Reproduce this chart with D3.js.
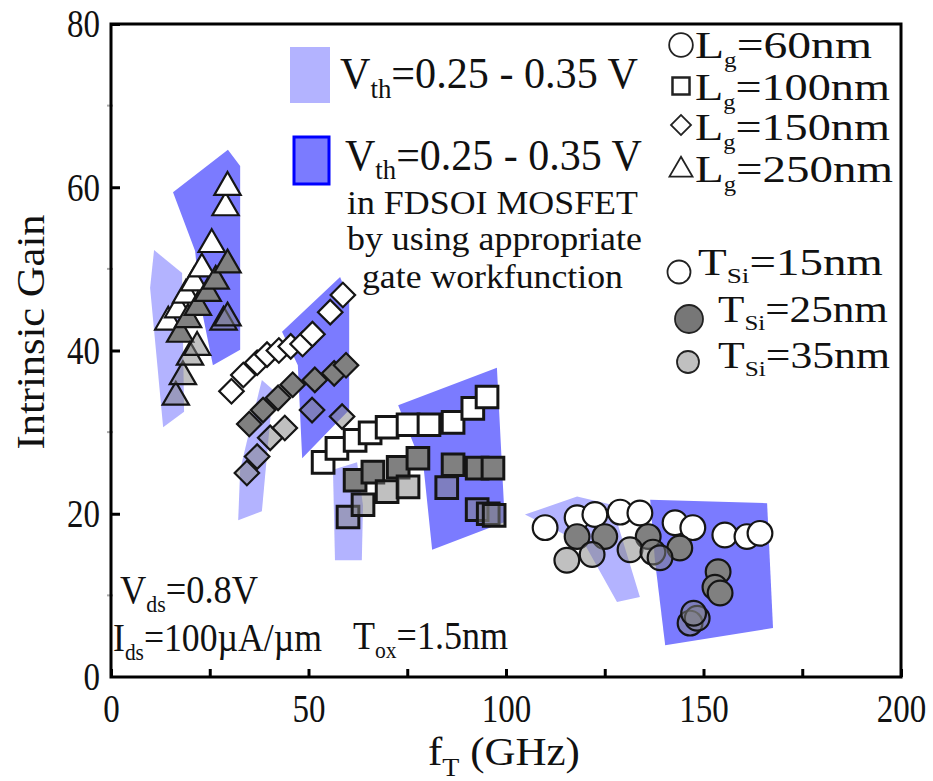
<!DOCTYPE html>
<html>
<head>
<meta charset="utf-8">
<script src="https://cdn.jsdelivr.net/npm/d3@7"></script>
<style>
  body { margin: 0; background: #fff; }
  text { font-family: "Liberation Serif", "Times New Roman", serif; fill: #111; }
</style>
</head>
<body>
<div id="chart"></div>
<script>

// axis ticks
const xTicks = [0, 25, 50, 75, 100, 125, 150, 175, 200]
const yTicks = [0, 20, 40, 60, 80]
const yMinor = [10, 30, 50, 70]

// [fT (GHz), intrinsic gain]
// Lg = 250nm (triangles)
const tri15 = [[14.5,43.5],[17,45],[19,46.8],[21,48.3],[23,50],[25.5,53],[29,57.5],[29.5,60]]
const tri25 = [[17.5,42],[19.5,43.8],[22,45.3],[24.5,47],[26.5,48.5],[29.5,50.5]]
const tri35 = [[16.4,34.3],[18.2,36.8],[20,39.2],[21.8,40.4],[28.5,43.5],[29.5,44]]
// Lg = 150nm (diamonds)
const dia15 = [[30.5,35],[33.5,37],[37,38.5],[39.5,39.5],[42.5,40],[45.5,40.5],[48.5,40.8],[51,42],[55.5,44.7],[58.7,46.8]]
const dia25 = [[35,31],[38.5,32.7],[42.3,34.2],[46,35.8],[51.6,36.4],[56.5,37.2],[59.5,38.2]]
const dia35 = [[34.4,25],[37,27],[40.3,29.3],[44,30.5],[50.9,32.7],[58.5,31.9]]
// Lg = 100nm (squares)
const sq15 = [[53.7,26.3],[57.2,28],[61.8,29],[65.6,29.9],[69.9,30.6],[75.2,30.9],[80.5,30.9],[86.6,31.2],[91.6,32.9],[95.2,34.3]]
const sq25 = [[61.8,24.1],[66.3,25.1],[72.7,25.7],[77.7,26.8],[86.6,26],[92.7,25.6],[96.7,25.6]]
const sq35 = [[60,19.6],[63.8,21.1],[69.9,22.7],[75.2,23.3],[85,23.2],[92.7,20.5],[95.5,20],[97,19.8]]
// Lg = 60nm (circles)
const cir15 = [[109.9,18.3],[118,19.5],[122.5,19.9],[128.9,20.2],[133.9,20.1],[142.8,18.9],[147.3,18.3],[155.4,17.4],[161,17.2],[164.3,17.6]]
const cir25 = [[118,17.2],[125,17.2],[136,17.2],[144,15.8],[153.7,12.9],[152.9,11],[154.2,10.3]]
const cir35 = [[115.4,14.3],[121.8,15],[131.4,15.6],[137.2,15.3],[139,14.6],[146.6,6.6],[148.4,7.2],[147.5,7.8]]

// shaded Vth = 0.25 - 0.35 V regions
const lightRegions = [
    [[10.9,52.3],[18,49.5],[18.5,32.5],[13.2,30.6],[9.9,47.7]],
    [[38.2,36.4],[41,35.2],[38.2,20.3],[32.2,19.2],[32.7,25.4],[35.7,31.5]],
    [[56.2,25.4],[62.3,26.3],[63.8,21],[63.5,14.3],[56.7,14.3]],
    [[104.8,19.9],[118,22.1],[126.8,21.1],[133.9,9.8],[128.1,9.2],[120,16.2]]
]
const darkRegions = [
    [[15.7,59.4],[29.6,64.6],[32.7,62.6],[32.7,40.1],[25.8,38.2],[22.5,46.1],[21.3,52.2]],
    [[43.3,42.3],[58,49],[60.3,46.3],[60.3,32.7],[55.4,30.3],[48.4,26.8],[47.3,38.2]],
    [[72.7,33.3],[97.7,37.9],[99.7,19],[81.3,15.6],[79.2,25.4]],
    [[136.5,21.7],[166.1,21.3],[167.6,6],[140.3,3.9],[137.7,14.3]]
]

const series = [
    {shape: "triangle", tsi: 15, pts: tri15}, {shape: "triangle", tsi: 25, pts: tri25}, {shape: "triangle", tsi: 35, pts: tri35},
    {shape: "diamond", tsi: 15, pts: dia15}, {shape: "diamond", tsi: 25, pts: dia25}, {shape: "diamond", tsi: 35, pts: dia35},
    {shape: "square", tsi: 15, pts: sq15}, {shape: "square", tsi: 25, pts: sq25}, {shape: "square", tsi: 35, pts: sq35},
    {shape: "circle", tsi: 15, pts: cir15}, {shape: "circle", tsi: 25, pts: cir25}, {shape: "circle", tsi: 35, pts: cir35},
]

const W = 933, H = 781
const svg = d3.select("#chart").append("svg").attr("width", W).attr("height", H)

const x = d3.scaleLinear().domain([0, 200]).range([111, 901])
const y = d3.scaleLinear().domain([0, 80]).range([677, 24])

const lightBlue = "#b3b3ff", darkBlue = "#7b7bff"
const fills = {15: "#ffffff", 25: "#808080", 35: "#818181"}
const fillOp = {15: 1, 25: 1, 35: 0.5}

// label with subscripts: parts are [text, isSub]; squeezed horizontally to span x0..x1
function rich(x0, x1, base, size, subSize, subDy, parts) {
    const g = svg.append("g")
    const t = g.append("text").style("font-size", size + "px")
    let down = 0
    parts.forEach(p => {
        const dy = p[1] ? subDy - down : -down
        down = p[1] ? subDy : 0
        t.append("tspan").attr("dy", dy).style("font-size", (p[1] ? subSize : size) + "px").text(p[0])
    })
    const sx = (x1 - x0) / t.node().getComputedTextLength()
    g.attr("transform", `translate(${x0},${base}) scale(${sx},1)`)
    return g
}

function symPath(shape) {
    if (shape == "circle") return d3.symbol(d3.symbolCircle, 480)()
    if (shape == "square") return d3.symbol(d3.symbolSquare, 470)()
    if (shape == "diamond") return d3.symbol(d3.symbolSquare, 300)()
    return d3.symbol(d3.symbolTriangle, 300)()
}

// regions
const line = d3.line().x(d => x(d[0])).y(d => y(d[1]))
svg.append("g").selectAll("path").data(lightRegions).join("path")
    .attr("d", d => line(d) + "Z").attr("fill", lightBlue)
svg.append("g").selectAll("path").data(darkRegions).join("path")
    .attr("d", d => line(d) + "Z").attr("fill", darkBlue)

// markers
series.forEach(s => {
    svg.append("g").selectAll("path").data(s.pts).join("path")
        .attr("d", symPath(s.shape))
        .attr("transform", d => `translate(${x(d[0])},${y(d[1])})` + (s.shape == "diamond" ? " rotate(45)" : ""))
        .attr("fill", fills[s.tsi])
        .attr("fill-opacity", fillOp[s.tsi])
        .attr("stroke", "#151515")
        .attr("stroke-width", s.shape == "square" ? 3 : 2.2)
})

// axes
const xAxis = svg.append("g").attr("transform", "translate(0,677)")
    .call(d3.axisBottom(x).tickValues(xTicks).tickSize(-8).tickPadding(17)
        .tickFormat(d => d % 50 == 0 ? d : ""))
const yAxis = svg.append("g").attr("transform", "translate(111,0)")
    .call(d3.axisLeft(y).tickValues(yTicks).tickSize(-9).tickPadding(11))
;[xAxis, yAxis].forEach(a => {
    a.select(".domain").remove()
    a.selectAll(".tick line").attr("stroke", "#000").attr("stroke-width", 3)
    a.selectAll(".tick text").style("font-size", "40px")
        .style("font-family", '"Liberation Serif", serif').attr("fill", "#222")
})
// narrow the tick digits like the original (about 16.5px per digit)
xAxis.selectAll(".tick text").each(function(d) {
    const t = d3.select(this)
    const w = this.getComputedTextLength()
    if (w > 0) t.attr("transform", `scale(${String(d).length * 16.5 / w},1)`)
})
yAxis.selectAll(".tick text").each(function(d) {
    const t = d3.select(this)
    const w = this.getComputedTextLength()
    t.attr("x", 0).attr("transform", `translate(-11,0) scale(${String(d).length * 16.5 / w},1)`)
})
yAxis.selectAll(".tick").filter(d => d == 0).select("line").remove()
svg.append("g").selectAll("line").data(yMinor).join("line")
    .attr("x1", 107).attr("x2", 113).attr("y1", d => y(d)).attr("y2", d => y(d))
    .attr("stroke", "#aaa").attr("stroke-width", 2)

svg.append("rect").attr("x", 111).attr("y", 24).attr("width", 790).attr("height", 653)
    .attr("fill", "none").attr("stroke", "#000").attr("stroke-width", 3)

// axis titles
rich(428, 580, 765, 40, 26, 11, [["f"], ["T", 1], [" (GHz)"]])
const yt = svg.append("g")
const ytt = yt.append("text").attr("text-anchor", "middle").style("font-size", "40px").attr("fill", "#444").text("Intrinsic Gain")
yt.attr("transform", `translate(44,332) rotate(-90) scale(${235 / ytt.node().getComputedTextLength()},1)`)

// middle legend
svg.append("rect").attr("x", 290).attr("y", 47).attr("width", 40).attr("height", 56).attr("fill", lightBlue)
svg.append("rect").attr("x", 294).attr("y", 137).attr("width", 35).attr("height", 47)
    .attr("fill", darkBlue).attr("stroke", "#0000ff").attr("stroke-width", 3)
rich(340, 638, 88, 44, 28, 10, [["V"], ["th", 1], ["=0.25 - 0.35 V"]])
rich(345, 642, 170, 44, 28, 9, [["V"], ["th", 1], ["=0.25 - 0.35 V"]])
rich(347, 638, 214, 34, 0, 0, [["in FDSOI MOSFET"]])
rich(347, 642, 250, 34, 0, 0, [["by using appropriate"]])
rich(362, 623, 288, 34, 0, 0, [["gate workfunction"]])

// right legend: gate length
const lgRows = [
    {shape: "circle", cy: 45, base: 58, lab: "=60nm", x1: 872},
    {shape: "square", cy: 86, base: 100, lab: "=100nm", x1: 890},
    {shape: "diamond", cy: 125, base: 140, lab: "=150nm", x1: 890},
    {shape: "triangle", cy: 170, base: 182, lab: "=250nm", x1: 893},
]
lgRows.forEach(r => {
    const sz = {circle: 440, square: 290, diamond: 200, triangle: 230}[r.shape]
    const sym = r.shape == "circle" ? d3.symbolCircle : r.shape == "triangle" ? d3.symbolTriangle : d3.symbolSquare
    svg.append("path").attr("d", d3.symbol(sym, sz)())
        .attr("transform", `translate(681,${r.cy})` + (r.shape == "diamond" ? " rotate(45)" : ""))
        .attr("fill", "#fff").attr("stroke", "#222").attr("stroke-width", r.shape == "square" ? 2.5 : 1.8)
    rich(695, r.x1, r.base, 38, 20, 9, [["L"], ["g", 1], [r.lab]])
})

// right legend: silicon thickness
const tsiRows = [
    {tsi: 15, cx: 679, cy: 272, r: 11.5, tx: 698, base: 275, x1: 883},
    {tsi: 25, cx: 689, cy: 319, r: 14, tx: 718, base: 322, x1: 888},
    {tsi: 35, cx: 688, cy: 362, r: 11, tx: 718, base: 368, x1: 890},
]
const tsiFill = {15: "#fff", 25: "#777", 35: "#c0c0c0"}
tsiRows.forEach(r => {
    svg.append("circle").attr("cx", r.cx).attr("cy", r.cy).attr("r", r.r)
        .attr("fill", tsiFill[r.tsi]).attr("stroke", "#222").attr("stroke-width", 1.8)
    rich(r.tx, r.x1, r.base, 38, 22, 8, [["T"], ["Si", 1], ["=" + r.tsi + "nm"]])
})

// bias conditions
rich(120, 258, 603, 40, 24, 9, [["V"], ["ds", 1], ["=0.8V"]])
rich(113, 322, 651, 40, 24, 9, [["I"], ["ds", 1], ["=100\u00b5A/\u00b5m"]])
rich(353, 508, 649, 40, 24, 9, [["T"], ["ox", 1], ["=1.5nm"]])

</script>
</body>
</html>
